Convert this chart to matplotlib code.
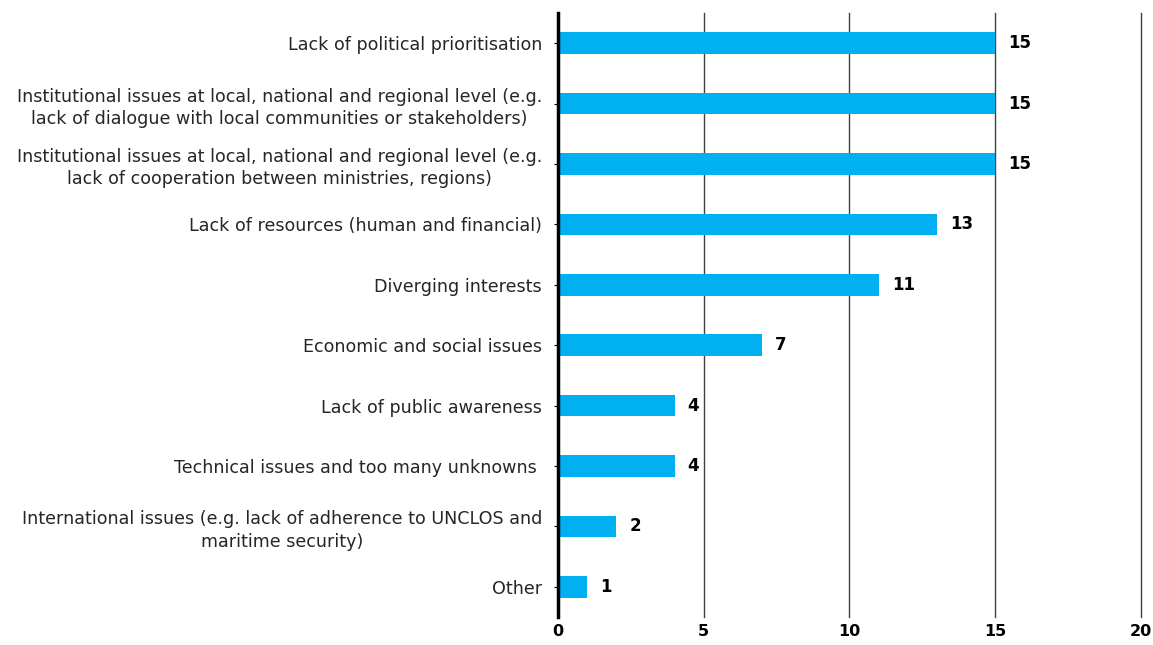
import matplotlib.pyplot as plt
import numpy as np

categories = [
    "Lack of political prioritisation",
    "Institutional issues at local, national and regional level (e.g.\nlack of dialogue with local communities or stakeholders)",
    "Institutional issues at local, national and regional level (e.g.\nlack of cooperation between ministries, regions)",
    "Lack of resources (human and financial)",
    "Diverging interests",
    "Economic and social issues",
    "Lack of public awareness",
    "Technical issues and too many unknowns ",
    "International issues (e.g. lack of adherence to UNCLOS and\nmaritime security)",
    "Other",
]
counts = [15, 15, 15, 13, 11, 7, 4, 4, 2, 1]
xticks = [0, 5, 10, 15, 20]

plt.rcParams['font.family'] = ['DejaVu Sans']

fig = plt.figure(figsize=(11.53, 6.45), dpi=100)
ax = fig.add_axes([558 / 1153, 28 / 645, 583 / 1153, 604 / 645])

y = np.arange(len(categories))
ax.barh(y, counts, height=0.36, color='#00B0F0', zorder=3)

for yi, v in zip(y, counts):
    ax.text(v + 0.45, yi, str(v), va='center', ha='left',
            fontsize=12, fontweight='bold', color='black')

ax.set_xlim(0, 20)
ax.set_ylim(len(categories) - 0.5, -0.5)
ax.set_xticks(xticks)
ax.set_xticklabels([str(t) for t in xticks], fontweight='bold', fontsize=11.5)
ax.set_yticks(y)
ax.set_yticklabels(categories, fontsize=12.6, color='#262626', ha='center',
                   multialignment='center', linespacing=1.3)
ax.tick_params(axis='y', length=3, width=0.8, pad=3)
ax.tick_params(axis='x', length=0, pad=5)

# shift centred labels so their right edge sits near the axis
fig.canvas.draw()
renderer = fig.canvas.get_renderer()
axw = ax.get_window_extent(renderer).width
for lab in ax.get_yticklabels():
    bb = lab.get_window_extent(renderer)
    lab.set_x(-(bb.width / 2 + 16) / axw)
    lab.set_transform(ax.get_yaxis_transform())

ax.xaxis.grid(True, color='#404040', linewidth=1.0, zorder=0)
for gl in ax.get_xgridlines():
    gl.set_clip_on(False)
ax.yaxis.grid(False)
for side in ['top', 'right', 'bottom']:
    ax.spines[side].set_visible(False)
ax.spines['left'].set_linewidth(2.5)
ax.spines['left'].set_zorder(4)

fig.savefig('out.png', dpi=100)
